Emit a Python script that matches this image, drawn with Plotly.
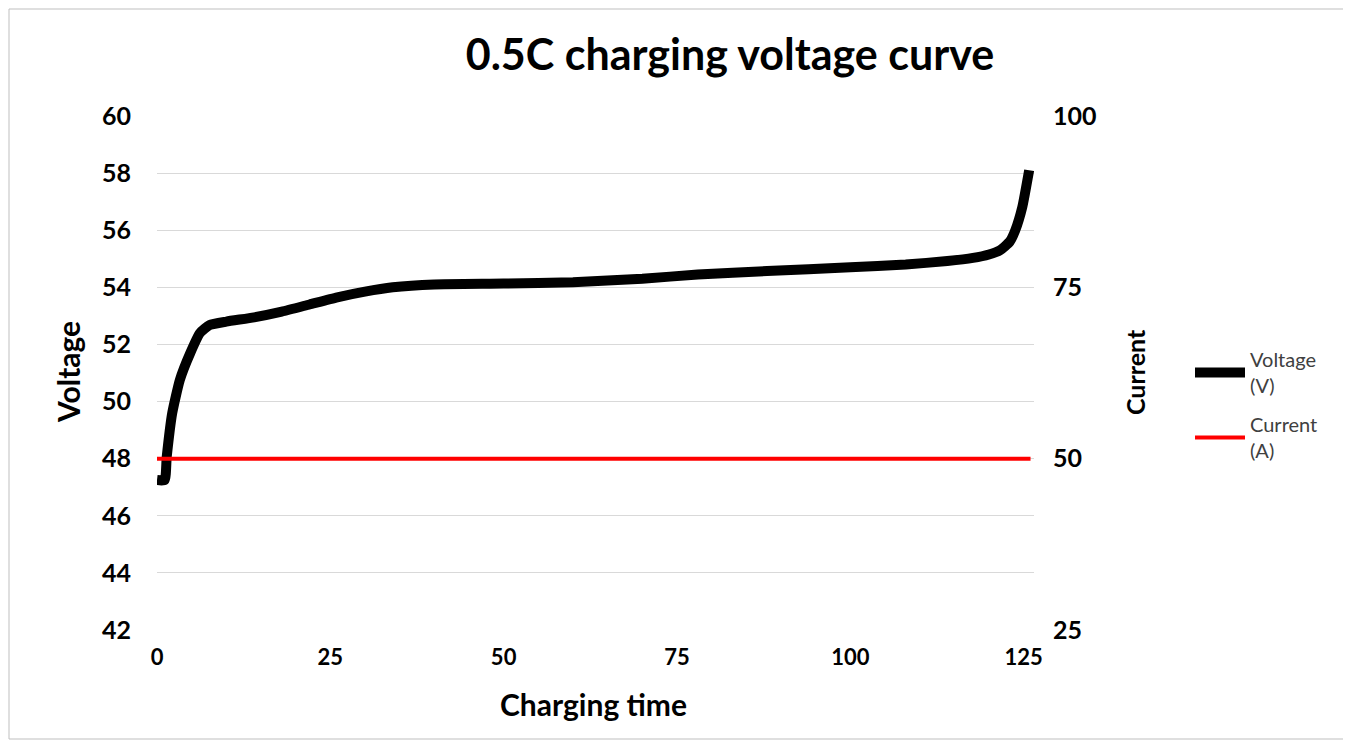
import plotly.graph_objects as go

# Data
time_h = [0, 1.1, 1.4, 2.2, 3.3, 4.8, 6.2, 7.6, 10, 14, 18, 22, 26, 30, 34, 40, 50, 60,
          70, 78, 88, 100, 108, 114, 117.7, 120, 121.6, 123, 123.8, 124.8, 125.8]
voltage = [47.25, 47.25, 48.06, 49.6, 50.76, 51.7, 52.4, 52.68, 52.8, 52.95, 53.15, 53.4,
           53.65, 53.85, 54.0, 54.1, 54.13, 54.18, 54.3, 54.45, 54.57, 54.7, 54.8, 54.92,
           55.03, 55.15, 55.3, 55.6, 56.0, 56.8, 58.1]
current_time = [0, 126]
current = [50, 50]

left_ticks = [42, 44, 46, 48, 50, 52, 54, 56, 58, 60]
right_ticks = [25, 50, 75, 100]
x_ticks = [0, 25, 50, 75, 100, 125]

FONT = "Lato"
OFF = 8  # page body margin
W, H = 1351, 742
# plot area in screen pixels
SL, SR, ST, SB = 157, 1034, 116, 630
L, R, T, B = SL - OFF, SR - OFF, ST - OFF, SB - OFF

def px_x(p):
    return (p - SL) / (SR - SL)

def px_y(p):
    return (SB - p) / (SB - ST)

fig = go.Figure()
fig.add_trace(go.Scatter(x=time_h, y=voltage, mode="lines", name="Voltage<br>(V)",
                         legendgroup="v",
                         line=dict(color="black", width=10, shape="spline", smoothing=0.5)))
fig.add_trace(go.Scatter(x=current_time, y=current, mode="lines", name="Current<br>(A)",
                         legendgroup="c",
                         yaxis="y2", line=dict(color="#FF0000", width=4)))

fig.update_layout(
    width=W, height=H,
    margin=dict(l=L, r=W - R, t=T, b=H - B, autoexpand=False),
    paper_bgcolor="white", plot_bgcolor="white",
    font=dict(family=FONT, color="black"),
    title=dict(text="<b>0.5C charging voltage curve</b>", x=(730 - OFF) / W, xref="container",
               xanchor="center", y=1 - (55 - OFF) / H, yref="container", yanchor="middle",
               font=dict(size=43, family=FONT, color="black")),
    xaxis=dict(range=[0, 126.5], tickvals=x_ticks, showgrid=False, zeroline=False,
               showline=False, ticks="", ticklabelstandoff=12,
               tickfont=dict(size=22, family=FONT, color="black", weight="bold")),
    yaxis=dict(range=[42, 60], tickvals=left_ticks, showgrid=True, gridcolor="#D9D9D9",
               gridwidth=1, zeroline=False, showline=False, ticks="", ticklabelstandoff=25,
               tickfont=dict(size=25, family=FONT, color="black", weight="bold")),
    yaxis2=dict(range=[25, 100], tickvals=right_ticks, overlaying="y", side="right",
                showgrid=False, zeroline=False, showline=False, ticks="",
                ticklabelstandoff=18,
                tickfont=dict(size=25, family=FONT, color="black", weight="bold")),
    legend=dict(x=px_x(1190), y=px_y(340), xanchor="left", yanchor="top",
                font=dict(size=20, family=FONT, color="#404040"), itemwidth=50,
                bgcolor="rgba(0,0,0,0)", tracegroupgap=10),
    showlegend=True,
)

fig.add_annotation(text="<b>Voltage</b>", xref="paper", yref="paper", x=px_x(68), y=px_y(372),
                   textangle=-90, showarrow=False, xanchor="center", yanchor="middle",
                   font=dict(size=30, family=FONT, color="black"))
fig.add_annotation(text="<b>Current</b>", xref="paper", yref="paper", x=px_x(1135), y=px_y(372),
                   textangle=-90, showarrow=False, xanchor="center", yanchor="middle",
                   font=dict(size=25, family=FONT, color="black"))
fig.add_annotation(text="<b>Charging time</b>", xref="paper", yref="paper", x=px_x(593), y=px_y(704),
                   showarrow=False, xanchor="center", yanchor="middle",
                   font=dict(size=30, family=FONT, color="black"))

fig.add_shape(type="rect", xref="paper", yref="paper",
              x0=px_x(9), x1=px_x(1348), y0=px_y(739), y1=px_y(9),
              line=dict(color="#BFBFBF", width=1), fillcolor="rgba(0,0,0,0)", layer="below")

fig.write_html("out.html")
